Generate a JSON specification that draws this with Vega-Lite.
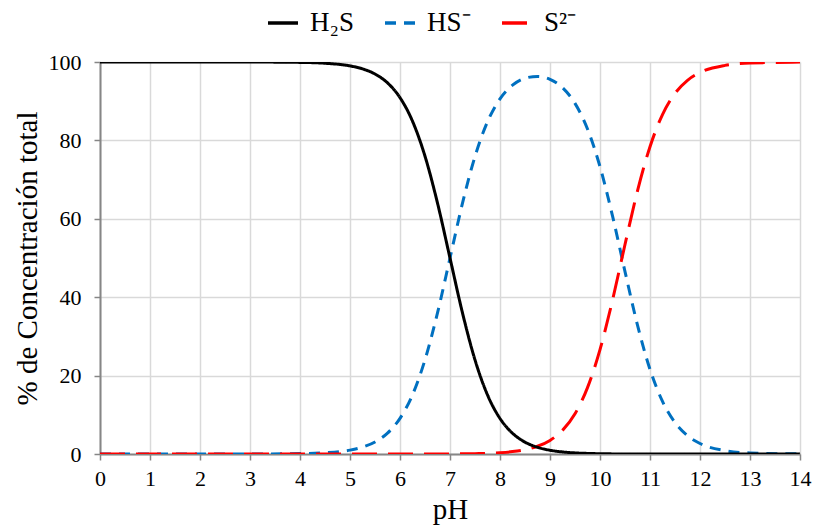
{
  "$schema": "https://vega.github.io/schema/vega-lite/v6.json",
  "width": 700,
  "height": 392,
  "autosize": {"type": "none"},
  "padding": {"left": 100, "top": 62, "right": 17, "bottom": 73},
  "background": "white",
  "config": {
    "view": {"stroke": null},
    "font": "Liberation Serif",
    "axis": {
      "labelFont": "Liberation Serif",
      "titleFont": "Liberation Serif",
      "labelFontSize": 22,
      "titleFontSize": 29,
      "titleFontWeight": "normal",
      "labelColor": "#000000",
      "titleColor": "#000000",
      "gridColor": "#D9D9D9",
      "gridWidth": 1.5,
      "domainColor": "#868686",
      "domainWidth": 2,
      "tickColor": "#868686",
      "tickWidth": 1.5,
      "tickSize": 6
    }
  },
  "data": {
    "values": [
      {"pH": 0, "H2S": 100, "HS": 0, "S": 0},
      {"pH": 1, "H2S": 100, "HS": 0, "S": 0},
      {"pH": 2, "H2S": 100, "HS": 0, "S": 0},
      {"pH": 3, "H2S": 99.99, "HS": 0.01, "S": 0},
      {"pH": 4, "H2S": 99.9, "HS": 0.1, "S": 0},
      {"pH": 4.5, "H2S": 99.68, "HS": 0.32, "S": 0},
      {"pH": 5, "H2S": 99.01, "HS": 0.99, "S": 0},
      {"pH": 5.25, "H2S": 98.25, "HS": 1.75, "S": 0},
      {"pH": 5.5, "H2S": 96.93, "HS": 3.07, "S": 0},
      {"pH": 5.75, "H2S": 94.68, "HS": 5.32, "S": 0},
      {"pH": 6, "H2S": 90.91, "HS": 9.09, "S": 0},
      {"pH": 6.25, "H2S": 84.9, "HS": 15.1, "S": 0},
      {"pH": 6.5, "H2S": 75.97, "HS": 24.03, "S": 0},
      {"pH": 6.75, "H2S": 64.01, "HS": 35.99, "S": 0.01},
      {"pH": 7, "H2S": 49.99, "HS": 49.99, "S": 0.02},
      {"pH": 7.25, "H2S": 35.98, "HS": 63.98, "S": 0.04},
      {"pH": 7.5, "H2S": 24.0, "HS": 75.91, "S": 0.09},
      {"pH": 7.75, "H2S": 15.07, "HS": 84.75, "S": 0.17},
      {"pH": 8, "H2S": 9.06, "HS": 90.61, "S": 0.33},
      {"pH": 8.25, "H2S": 5.29, "HS": 94.1, "S": 0.61},
      {"pH": 8.5, "H2S": 3.03, "HS": 95.87, "S": 1.1},
      {"pH": 8.75, "H2S": 1.71, "HS": 96.32, "S": 1.97},
      {"pH": 9, "H2S": 0.96, "HS": 95.57, "S": 3.47},
      {"pH": 9.25, "H2S": 0.53, "HS": 93.44, "S": 6.03},
      {"pH": 9.5, "H2S": 0.28, "HS": 89.45, "S": 10.27},
      {"pH": 9.75, "H2S": 0.15, "HS": 82.92, "S": 16.93},
      {"pH": 10, "H2S": 0.07, "HS": 73.31, "S": 26.62},
      {"pH": 10.25, "H2S": 0.03, "HS": 60.74, "S": 39.22},
      {"pH": 10.5, "H2S": 0.02, "HS": 46.54, "S": 53.44},
      {"pH": 10.75, "H2S": 0.01, "HS": 32.87, "S": 67.12},
      {"pH": 11, "H2S": 0, "HS": 21.59, "S": 78.4},
      {"pH": 11.25, "H2S": 0, "HS": 13.41, "S": 86.59},
      {"pH": 11.5, "H2S": 0, "HS": 8.01, "S": 91.99},
      {"pH": 11.75, "H2S": 0, "HS": 4.67, "S": 95.33},
      {"pH": 12, "H2S": 0, "HS": 2.68, "S": 97.32},
      {"pH": 12.5, "H2S": 0, "HS": 0.86, "S": 99.14},
      {"pH": 13, "H2S": 0, "HS": 0.27, "S": 99.73},
      {"pH": 14, "H2S": 0, "HS": 0.03, "S": 99.97}
    ]
  },
  "transform": [
    {"fold": ["HS", "S", "H2S"], "as": ["key", "value"]},
    {"lookup": "key", "from": {"data": {"values": [
      {"key": "H2S", "series": "H₂S", "ord": 2},
      {"key": "HS", "series": "HS⁻", "ord": 0},
      {"key": "S", "series": "S²⁻", "ord": 1}
    ]}, "key": "key", "fields": ["series", "ord"]}}
  ],
  "mark": {"type": "line", "strokeWidth": 3, "interpolate": "monotone", "clip": true},
  "encoding": {
    "x": {
      "field": "pH", "type": "quantitative",
      "scale": {"domain": [0, 14], "nice": false},
      "axis": {"values": [0,1,2,3,4,5,6,7,8,9,10,11,12,13,14], "title": "pH", "labelPadding": 8, "titlePadding": 6, "labelFlush": false}
    },
    "y": {
      "field": "value", "type": "quantitative",
      "scale": {"domain": [0, 100], "nice": false},
      "axis": {"values": [0,20,40,60,80,100], "title": "% de Concentración total", "labelPadding": 13, "titlePadding": 6}
    },
    "color": {
      "field": "series", "type": "nominal",
      "scale": {"domain": ["H₂S", "HS⁻", "S²⁻"], "range": ["#000000", "#0070C0", "#FF0000"]},
      "legend": {
        "title": null,
        "orient": "none",
        "direction": "horizontal",
        "legendX": 166,
        "legendY": -56,
        "symbolType": "stroke",
        "symbolSize": 900,
        "symbolStrokeWidth": 3.5,
        "labelFont": "Liberation Serif",
        "labelFontSize": 27,
        "labelColor": "#000000",
        "labelOffset": 10,
        "columnPadding": 24
      }
    },
    "strokeDash": {
      "field": "series", "type": "nominal",
      "scale": {"domain": ["H₂S", "HS⁻", "S²⁻"], "range": [[1, 0], [11, 8], [25, 11]]},
      "legend": null
    },
    "detail": {"field": "ord"}
  }
}
